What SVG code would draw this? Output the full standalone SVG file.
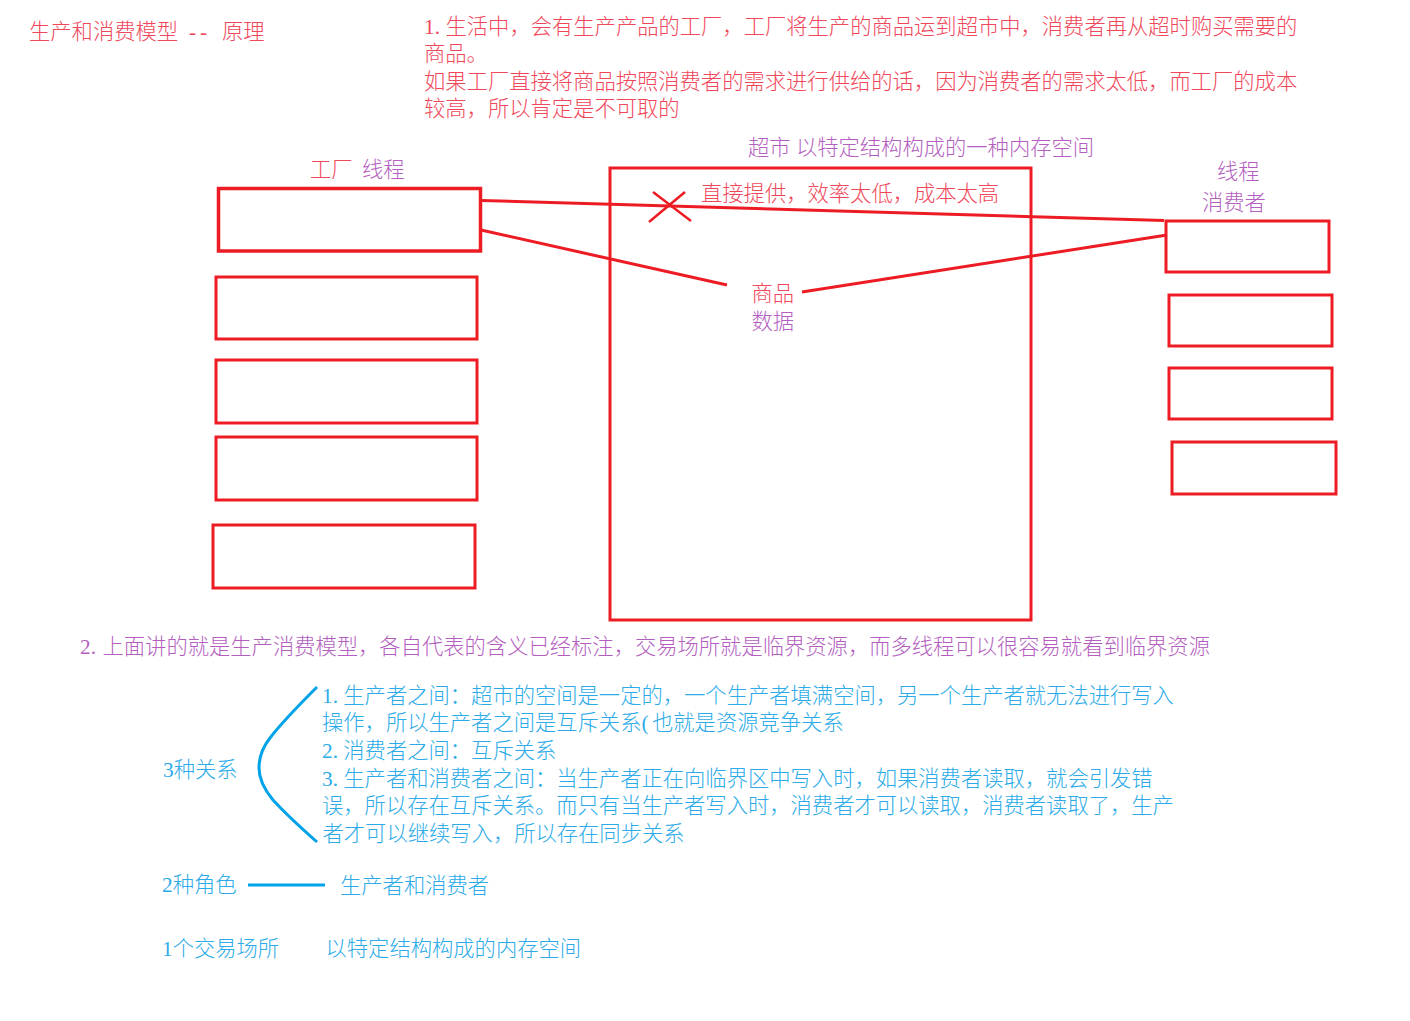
<svg xmlns="http://www.w3.org/2000/svg" width="1410" height="1021" viewBox="0 0 1410 1021">
<style>
text{font-family:"Liberation Serif","Noto Sans CJK SC",sans-serif;font-size:21.3px;font-weight:300}
.r{fill:#f0475a}.p{fill:#b45fc0}.b{fill:#2cabe8}
.box{fill:none;stroke:#ed1c24;stroke-width:3}
.ln{fill:none;stroke:#ed1c24;stroke-width:3}
.bl{fill:none;stroke:#00a2e8;stroke-width:3}
</style>
<rect width="1410" height="1021" fill="#fff"/>
<g id="texts-top">
<text class="r" x="29" y="38.500">生产和消费模型<tspan x="189" dx="0 4">--</tspan><tspan x="222">原理</tspan></text>
<text class="r" x="424" y="33.500">1.<tspan x="445.500">生活中，会有生产产品的工厂，工厂将生产的商品运到超市中，消费者再从超时购买需要的</tspan></text>
<text class="r" x="424" y="60.500">商品。</text>
<text class="r" x="424" y="89">如果工厂直接将商品按照消费者的需求进行供给的话，因为消费者的需求太低，而工厂的成本</text>
<text class="r" x="424" y="116">较高，所以肯定是不可取的</text>
</g>
<g id="factory">
<text x="310" y="176.500"><tspan class="r">工厂</tspan><tspan class="p" x="362">线程</tspan></text>
<rect class="box" x="218.500" y="188.500" width="262" height="62.500" style="stroke-width:3.500"/>
</g>
<g id="factory2"><rect class="box" x="216" y="277" width="261" height="62"/></g>
<g id="factory3"><rect class="box" x="216" y="360" width="261" height="63"/></g>
<g id="factory4"><rect class="box" x="216" y="437" width="261" height="63"/></g>
<g id="factory5"><rect class="box" x="213" y="525" width="262" height="63"/></g>
<g id="market">
<text class="p" x="748" y="155">超市 以特定结构构成的一种内存空间</text>
<rect class="box" x="610" y="168" width="421" height="452"/>
<text class="r" x="701" y="201">直接提供，效率太低，成本太高</text>
<text class="r" x="751.500" y="300.500">商品</text>
<text class="p" x="751.500" y="328.500">数据</text>
</g>
<g id="consumer">
<text class="p" x="1217" y="179">线程</text>
<text class="p" x="1202" y="210">消费者</text>
<rect class="box" x="1166" y="221" width="163" height="51"/>
</g>
<g id="consumer2"><rect class="box" x="1169" y="295" width="163" height="51"/></g>
<g id="consumer3"><rect class="box" x="1169" y="368" width="163" height="51"/></g>
<g id="consumer4"><rect class="box" x="1172" y="442" width="164" height="52"/></g>
<g id="connectors">
<path class="ln" d="M481 200.500L1164 220.500"/>
<path class="ln" d="M481 230L727 285"/>
<path class="ln" d="M802 292L1167 235"/>
<path class="ln" style="stroke-width:2.500" d="M649 222L685 192M653 192L691 221"/>
<path class="bl" d="M317 687C300 704 282 722 270 738C262 748 259 758 259 768C259 778 263 788 273 800C285 813 300 827 317 842"/>
<path class="bl" d="M248 885H325"/>
</g>
<g id="texts-bottom">
<text class="p" x="80" y="654">2.<tspan x="102.500">上面讲的就是生产消费模型，各自代表的含义已经标注，交易场所就是临界资源，而多线程可以很容易就看到临界资源</tspan></text>
<text class="b" x="163" y="776.500">3种关系</text>
<text class="b" x="322" y="703">1. 生产者之间：超市的空间是一定的，一个生产者填满空间，另一个生产者就无法进行写入</text>
<text class="b" x="322" y="730">操作，所以生产者之间是互斥关系(<tspan x="652">也就是资源竞争关系</tspan></text>
<text class="b" x="322" y="758">2. 消费者之间：互斥关系</text>
<text class="b" x="322" y="786">3. 生产者和消费者之间：当生产者正在向临界区中写入时，如果消费者读取，就会引发错</text>
<text class="b" x="322" y="813">误，所以存在互斥关系。而只有当生产者写入时，消费者才可以读取，消费者读取了，生产</text>
<text class="b" x="322.500" y="841">者才可以继续写入，所以存在同步关系</text>
<text class="b" x="162" y="891.500">2种角色</text>
<text class="b" x="340" y="893">生产者和消费者</text>
<text class="b" x="162" y="956">1个交易场所</text>
<text class="b" x="325.500" y="956">以特定结构构成的内存空间</text>
</g>
</svg>
